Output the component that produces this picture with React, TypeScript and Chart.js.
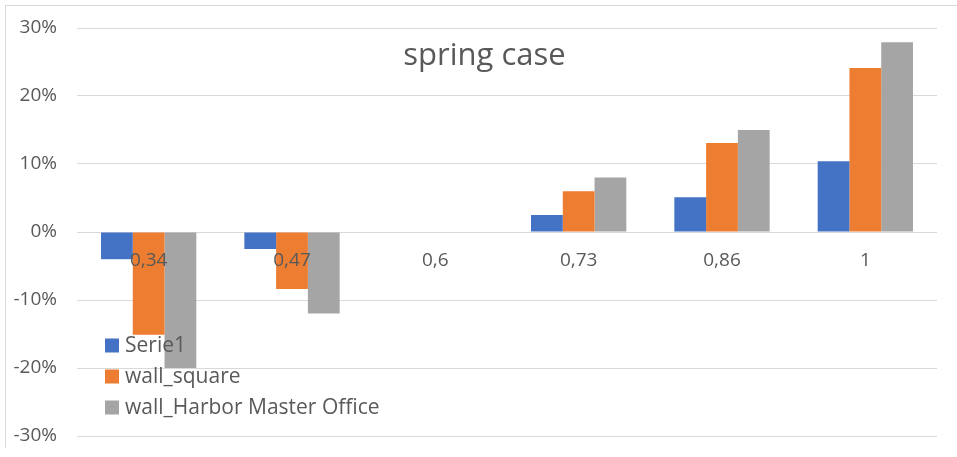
import React, { useEffect, useRef } from "react";
import { Chart, registerables } from "chart.js";

Chart.register(...registerables);

// Relative change per wind ratio
const categories = ["0,34", "0,47", "0,6", "0,73", "0,86", "1"];
const serie1 = [-0.04, -0.025, 0, 0.025, 0.051, 0.104];
const wallSquare = [-0.151, -0.084, 0, 0.06, 0.131, 0.241];
const wallHarborMasterOffice = [-0.2, -0.12, 0, 0.08, 0.15, 0.279];
const yTicks = [-0.3, -0.2, -0.1, 0, 0.1, 0.2, 0.3];

const seriesNames = ["Serie1", "wall_square", "wall_Harbor Master Office"];
const seriesColors = ["#4472C4", "#ED7D31", "#A5A5A5"];

const FONT = "'Open Sans', 'Noto Sans', sans-serif";
const TEXT = "#595959";
const GRID = "#d9d9d9";

// Title drawn over the plot area, like an overlaid chart title
const overlayTitle = {
  id: "overlayTitle",
  afterDraw(chart: Chart) {
    const { ctx } = chart;
    ctx.save();
    ctx.font = `31px ${FONT}`;
    ctx.fillStyle = TEXT;
    ctx.textAlign = "center";
    ctx.textBaseline = "alphabetic";
    ctx.fillText("spring case", 484.5, 65);
    ctx.restore();
  },
};

// Vertical legend placed inside the lower-left of the plot
const innerLegend = {
  id: "innerLegend",
  afterDatasetsDraw(chart: Chart) {
    const { ctx, chartArea } = chart;
    const x = chartArea.left + 28;
    const y0 = chartArea.top + 317.5;
    const rowH = 31;
    ctx.save();
    ctx.font = `21px ${FONT}`;
    ctx.textAlign = "left";
    ctx.textBaseline = "middle";
    chart.data.datasets.forEach((ds, i) => {
      const cy = y0 + i * rowH;
      ctx.fillStyle = ds.backgroundColor as string;
      ctx.fillRect(x, cy - 7, 14, 14);
      ctx.fillStyle = TEXT;
      ctx.fillText(ds.label as string, x + 20, cy + 1);
    });
    ctx.restore();
  },
};

export default function App() {
  const canvasRef = useRef<HTMLCanvasElement | null>(null);

  useEffect(() => {
    const canvas = canvasRef.current;
    if (!canvas) return;
    const values = [serie1, wallSquare, wallHarborMasterOffice];
    const chart = new Chart(canvas, {
      type: "bar",
      data: {
        labels: categories,
        datasets: values.map((data, i) => ({
          label: seriesNames[i],
          data,
          backgroundColor: seriesColors[i],
          borderWidth: 0,
          categoryPercentage: 0.665,
          barPercentage: 1,
        })),
      },
      options: {
        responsive: false,
        animation: false,
        devicePixelRatio: 1,
        layout: { padding: { left: 0, right: 20, top: 28, bottom: 21 } },
        plugins: {
          legend: { display: false },
          title: { display: false },
          tooltip: { enabled: false },
        },
        scales: {
          x: {
            position: { y: 0 },
            grid: { display: false, drawTicks: false },
            border: { display: false },
            ticks: {
              z: 1,
              color: TEXT,
              font: { family: FONT, size: 19 },
              padding: 17,
              maxRotation: 0,
            },
          },
          y: {
            min: -0.3,
            max: 0.3,
            afterBuildTicks(scale) {
              scale.ticks = yTicks.map((v) => ({ value: v }));
            },
            afterFit(scale) {
              scale.width = 77;
            },
            grid: {
              color: GRID,
              lineWidth: 1,
              drawTicks: true,
              tickLength: 20,
              tickColor: "rgba(0,0,0,0)",
            },
            border: { display: false },
            ticks: {
              color: TEXT,
              font: { family: FONT, size: 19 },
              padding: 0,
              callback: (v) => `${Math.round(Number(v) * 100)}%`,
            },
          },
        },
      },
      plugins: [overlayTitle, innerLegend],
    });
    return () => chart.destroy();
  }, []);

  return (
    <div
      style={{
        position: "fixed",
        left: 0,
        top: 0,
        width: 957,
        height: 457,
        background: "#ffffff",
      }}
    >
      <div
        style={{
          position: "absolute",
          left: 5,
          top: 5,
          width: 952,
          height: 442,
          borderTop: `1px solid ${GRID}`,
          borderLeft: `1px solid ${GRID}`,
        }}
      />
      <canvas
        ref={canvasRef}
        width={957}
        height={457}
        style={{ position: "absolute", left: 0, top: 0 }}
      />
    </div>
  );
}
